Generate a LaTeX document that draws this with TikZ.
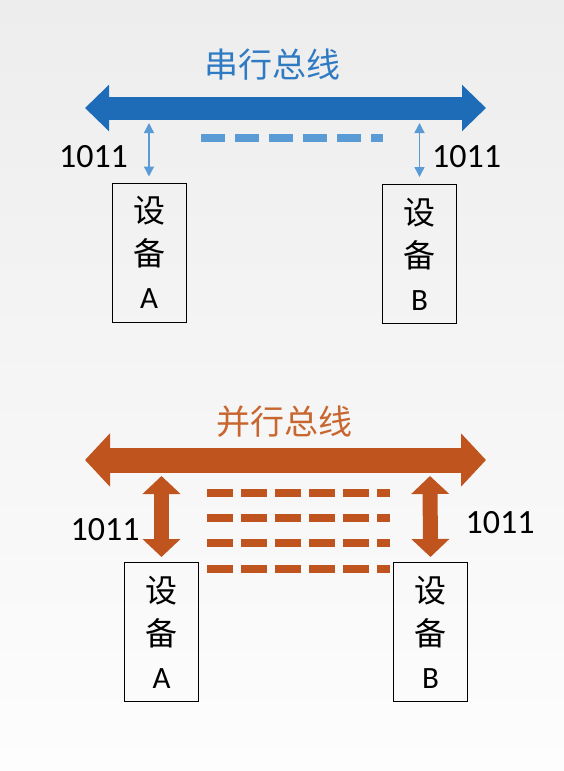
\documentclass[tikz,border=0pt]{standalone}
\usepackage{fontspec}
\setmainfont{Carlito}
\newfontfamily\cjkf{Noto Sans CJK SC}
\usetikzlibrary{arrows.meta}
\definecolor{busblue}{HTML}{1E6BB8}
\definecolor{lightblue}{HTML}{5B9BD5}
\definecolor{titleblue}{HTML}{2E7BC4}
\definecolor{busorange}{HTML}{C0541F}
\definecolor{titleorange}{HTML}{C8662F}
\definecolor{bgtop}{HTML}{EDEDED}
\definecolor{bgbot}{HTML}{FDFDFD}
\tikzset{
  devbox/.style={draw=black, line width=1pt, minimum width=74pt, minimum height=139pt,
    inner sep=0pt, align=center, font=\cjkf\fontsize{32}{43}\selectfont},
  title/.style={font=\cjkf\fontsize{34}{34}\selectfont, inner sep=0pt},
  bits/.style={font=\fontsize{34}{34}\selectfont, inner sep=0pt, text=black},
  thinlink/.style={lightblue, line width=1.4pt, {Triangle[width=10pt,length=10pt]}-{Triangle[width=10pt,length=10pt]}},
  thicklink/.style={busorange, line width=15pt, {Triangle[width=37pt,length=18pt]}-{Triangle[width=37pt,length=18pt]}},
  sdash/.style={lightblue, line width=8pt, dash pattern=on 24pt off 10pt},
  pdash/.style={busorange, line width=8pt, dash pattern=on 26pt off 8pt}
}
\begin{document}
\begin{tikzpicture}[x=1pt,y=-1pt]
\shade[top color=bgtop, bottom color=bgbot] (0,0) rectangle (564,771);
\useasboundingbox (0,0) rectangle (564,771);

% ---------- serial bus ----------
\node[title, text=titleblue] (t1) at (272,65) {串行总线};
\coordinate (b1L) at (85,108);
\coordinate (b1R) at (486,108);
\draw[busblue, line width=23pt, {Triangle[width=45pt,length=24pt]}-{Triangle[width=45pt,length=24pt]}] (b1L) -- (b1R);

\node[devbox] (A1) at (149,252.5) {设\\备\\{\rmfamily\fontsize{31}{43}\selectfont A}};
\node[devbox] (B1) at (419.5,254) {设\\备\\{\rmfamily\fontsize{31}{43}\selectfont B}};

\coordinate (c1a) at (149,123);
\coordinate (c1b) at (419.5,123);
\draw[thinlink] (c1a) -- ([yshift=6pt]A1.north);
\draw[thinlink] (c1b) -- ([yshift=7pt]B1.north);

\coordinate (d1s) at (201,138);
\coordinate (d1e) at (383,138);
\draw[sdash] (d1s) -- (d1e);

\node[bits] (n1) at (93.5,157) {1011};
\node[bits] (n2) at (466.5,157) {1011};

% ---------- parallel bus ----------
\node[title, text=titleorange] (t2) at (284,422) {并行总线};
\coordinate (b2L) at (85,460);
\coordinate (b2R) at (486,460);
\draw[busorange, line width=25pt, {Triangle[width=52pt,length=25pt]}-{Triangle[width=52pt,length=25pt]}] (b2L) -- (b2R);

\node[devbox] (A2) at (161.5,632) {设\\备\\{\rmfamily\fontsize{31}{43}\selectfont A}};
\node[devbox] (B2) at (430.5,632) {设\\备\\{\rmfamily\fontsize{31}{43}\selectfont B}};

\coordinate (c2a) at (161.5,476);
\coordinate (c2b) at (430,476);
\draw[thicklink] (c2a) -- ([yshift=5pt]A2.north);
\draw[thicklink] (c2b) -- ([yshift=5pt]B2.north);

\foreach \yy/\nm in {493/p1,518/p2,543/p3,569/p4}{
  \coordinate (\nm s) at (207,\yy);
  \coordinate (\nm e) at (390,\yy);
  \draw[pdash] (\nm s) -- (\nm e);
}

\node[bits] (n3) at (105,530) {1011};
\node[bits] (n4) at (500,523) {1011};
\end{tikzpicture}
\end{document}
